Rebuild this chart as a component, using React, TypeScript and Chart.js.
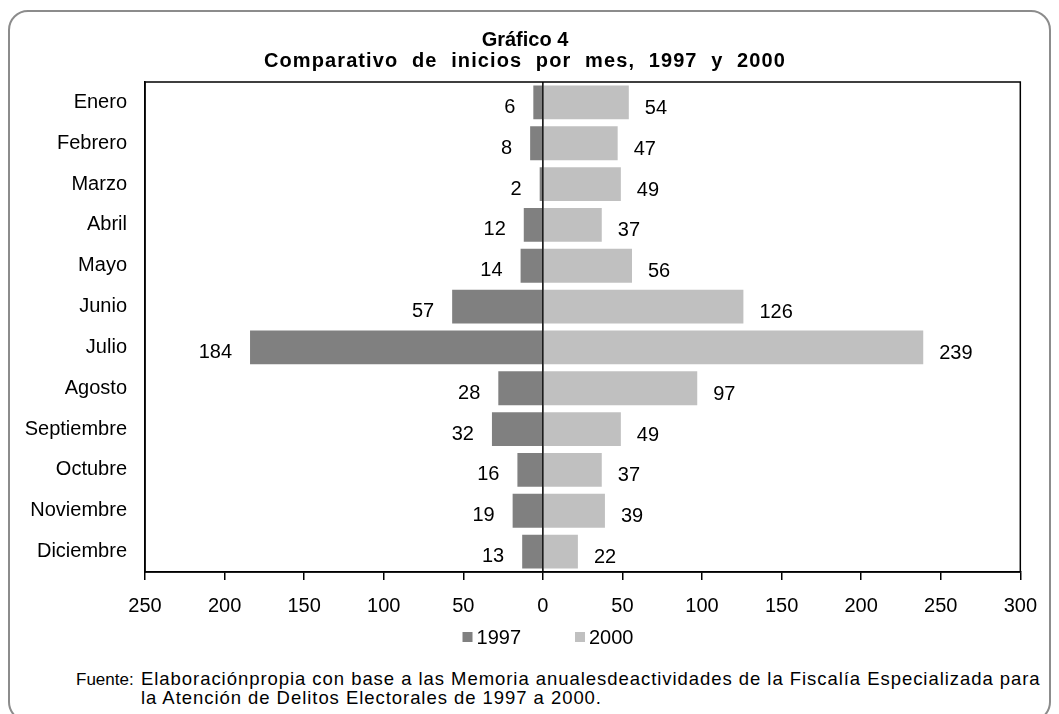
import React, { useEffect, useRef } from "react";
import { Chart, registerables } from "chart.js";

Chart.register(...registerables);

const months = [
  "Enero", "Febrero", "Marzo", "Abril", "Mayo", "Junio",
  "Julio", "Agosto", "Septiembre", "Octubre", "Noviembre", "Diciembre",
];
const values1997 = [6, 8, 2, 12, 14, 57, 184, 28, 32, 16, 19, 13];
const values2000 = [54, 47, 49, 37, 56, 126, 239, 97, 49, 37, 39, 22];
const seriesLabels = ["1997", "2000"];
const seriesColors = ["#808080", "#c0c0c0"];
const xMin = -250;
const xMax = 300;
const xStep = 50;
const titleLines = ["Gráfico 4", "Comparativo de inicios por mes, 1997 y 2000"];
const footerLabel = "Fuente:";
const footerLines = [
  "Elaboraciónpropia con base a las Memoria anualesdeactividades de la Fiscalía  Especializada para",
  "la Atención de Delitos Electorales de 1997 a 2000.",
];

const FONT = '"Liberation Sans", Arial, Helvetica, sans-serif';

const overlayPlugin = {
  id: "overlay",
  afterDatasetsDraw(chart: any) {
    const ctx = chart.ctx;
    const area = chart.chartArea;
    ctx.save();
    ctx.font = `20px ${FONT}`;
    ctx.fillStyle = "#000";
    ctx.textBaseline = "middle";
    chart.data.datasets.forEach((ds: any, di: number) => {
      const meta = chart.getDatasetMeta(di);
      meta.data.forEach((bar: any, i: number) => {
        const v = ds.data[i] as number;
        const { x, y } = bar.getProps(["x", "y"], true);
        if (v < 0) {
          ctx.textAlign = "right";
          ctx.fillText(String(Math.abs(v)), x - 18, y + 5);
        } else {
          ctx.textAlign = "left";
          ctx.fillText(String(v), x + 16, y + 6);
        }
      });
    });
    // zero line
    const x0 = chart.scales.x.getPixelForValue(0);
    ctx.strokeStyle = "#000";
    ctx.lineWidth = 1.5;
    ctx.beginPath();
    ctx.moveTo(x0, area.top);
    ctx.lineTo(x0, area.bottom);
    ctx.stroke();
    // plot box
    ctx.lineWidth = 1.5;
    ctx.strokeRect(area.left, area.top, area.right - area.left, area.bottom - area.top);
    ctx.restore();
  },
  afterDraw(chart: any) {
    const ctx = chart.ctx;
    ctx.save();
    ctx.font = `20px ${FONT}`;
    ctx.textBaseline = "middle";
    ctx.textAlign = "left";
    const box = 10;
    const gapText = 4;
    const gapItems = 54;
    const widths = chart.data.datasets.map((ds: any) => box + gapText + ctx.measureText(ds.label).width);
    const total = widths.reduce((a: number, b: number) => a + b, 0) + gapItems * (widths.length - 1);
    let x = 540 - total / 2;
    const y = 629;
    chart.data.datasets.forEach((ds: any, i: number) => {
      ctx.fillStyle = ds.backgroundColor;
      ctx.fillRect(x, y - box / 2, box, box);
      ctx.fillStyle = "#000";
      ctx.fillText(ds.label, x + box + gapText, y + 1);
      x += widths[i] + gapItems;
    });
    ctx.restore();
  },
};

export default function App() {
  const canvasRef = useRef<HTMLCanvasElement | null>(null);

  useEffect(() => {
    if (!canvasRef.current) return;
    const chart = new Chart(canvasRef.current, {
      type: "bar",
      data: {
        labels: months,
        datasets: [
          {
            label: seriesLabels[0],
            data: values1997.map((v) => -v),
            backgroundColor: seriesColors[0],
            borderWidth: 0,
            barPercentage: 0.83,
            categoryPercentage: 1,
          },
          {
            label: seriesLabels[1],
            data: values2000,
            backgroundColor: seriesColors[1],
            borderWidth: 0,
            barPercentage: 0.83,
            categoryPercentage: 1,
          },
        ],
      },
      options: {
        indexAxis: "y",
        responsive: false,
        animation: false,
        layout: { padding: { left: 0, right: 30, top: 74, bottom: 36 } },
        plugins: {
          legend: { display: false },
          tooltip: { enabled: false },
          title: { display: false },
        },
        scales: {
          x: {
            stacked: true,
            min: xMin,
            max: xMax,
            ticks: {
              stepSize: xStep,
              color: "#000",
              font: { family: FONT, size: 20 },
              padding: 14,
              maxRotation: 0,
              callback: (v: any) => String(Math.abs(Number(v))),
            },
            grid: {
              display: true,
              drawOnChartArea: false,
              drawTicks: true,
              tickLength: 8,
              color: "#000",
              lineWidth: 1.5,
            },
            border: { display: true, color: "#000", width: 1.5 },
          },
          y: {
            stacked: true,
            ticks: {
              color: "#000",
              font: { family: FONT, size: 20 },
              padding: 18,
            },
            grid: { display: false, drawTicks: false },
            border: { display: true, color: "#000", width: 1.5 },
            afterFit: (scale: any) => {
              scale.width = 137;
            },
          },
        },
      },
      plugins: [overlayPlugin],
    } as any);
    return () => chart.destroy();
  }, []);

  const textBase: React.CSSProperties = {
    position: "absolute",
    color: "#000",
    whiteSpace: "nowrap",
  };

  return (
    <div
      style={{
        position: "fixed",
        left: 0,
        top: 0,
        width: 1059,
        height: 714,
        overflow: "hidden",
        background: "#fff",
        fontFamily: FONT,
      }}
    >
      <div
        style={{
          position: "absolute",
          left: 8,
          top: 10,
          width: 1043,
          height: 712,
          boxSizing: "border-box",
          border: "2px solid #8c8c8c",
          borderRadius: 20,
        }}
      />
      <canvas
        ref={canvasRef}
        width={1043}
        height={660}
        style={{ position: "absolute", left: 8, top: 8, width: 1043, height: 660 }}
      />
      <div
        style={{
          ...textBase,
          left: 0,
          width: 1050,
          top: 29,
          textAlign: "center",
          fontWeight: "bold",
          fontSize: 20,
          lineHeight: "21px",
        }}
      >
        <div>{titleLines[0]}</div>
        <div style={{ letterSpacing: "1.1px", wordSpacing: "7px" }}>{titleLines[1]}</div>
      </div>
      <div
        style={{
          ...textBase,
          left: 76,
          top: 669,
          fontSize: 17,
          lineHeight: "19px",
          paddingTop: 1,
        }}
      >
        {footerLabel}
      </div>
      <div
        style={{
          ...textBase,
          left: 141,
          top: 669,
          fontSize: 18.5,
          lineHeight: "19px",
          letterSpacing: "0.95px",
        }}
      >
        <div>{footerLines[0]}</div>
        <div>{footerLines[1]}</div>
      </div>
    </div>
  );
}
